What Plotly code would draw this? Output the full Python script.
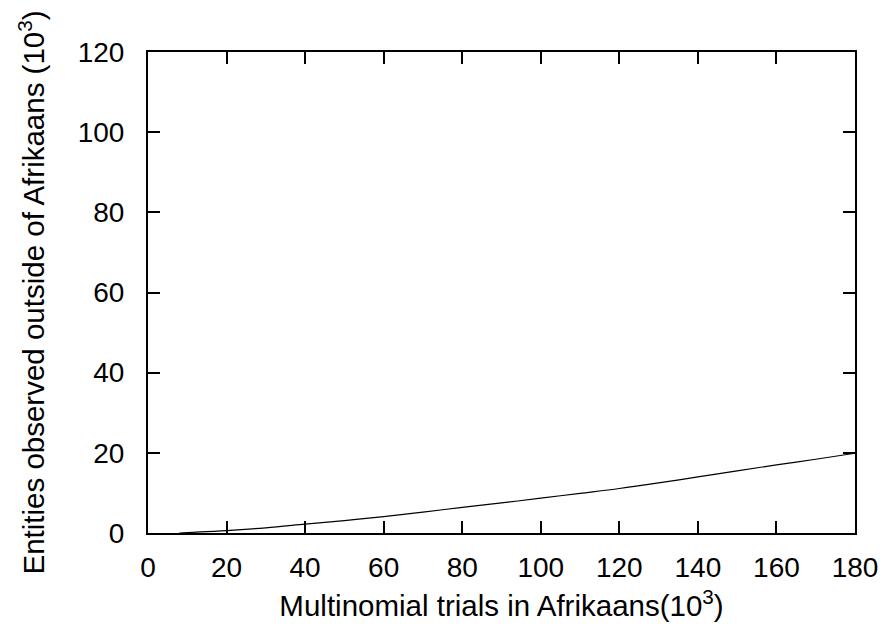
import plotly.graph_objects as go

x_vals = [8, 10, 20, 30, 40, 50, 60, 70, 80, 90, 100, 110, 120, 130, 140, 150, 160, 170, 180]
y_vals = [0.0, 0.1, 0.6, 1.3, 2.2, 3.1, 4.1, 5.2, 6.4, 7.5, 8.7, 9.9, 11.1, 12.5, 14.0, 15.5, 17.0, 18.4, 19.9]
x_ticks = [0, 20, 40, 60, 80, 100, 120, 140, 160, 180]
y_ticks = [0, 20, 40, 60, 80, 100, 120]

FONT = "Liberation Sans, Arial, Helvetica, sans-serif"

fig = go.Figure()
fig.add_trace(go.Scatter(x=x_vals, y=y_vals, mode="lines",
                         line=dict(color="black", width=1.2), line_shape="spline",
                         showlegend=False))

axis_common = dict(showline=True, linecolor="black", linewidth=2, mirror="ticks",
                   ticks="inside", ticklen=12, tickwidth=1.5, tickcolor="black",
                   showgrid=False, zeroline=False,
                   tickfont=dict(family=FONT, size=28, color="black"))

fig.update_layout(
    width=889, height=625,
    margin=dict(l=140, r=42, t=44, b=100),
    plot_bgcolor="white", paper_bgcolor="white",
    font=dict(family=FONT, size=28, color="black"),
    xaxis=dict(range=[0, 180], tickvals=x_ticks, ticktext=[str(v) for v in x_ticks],
               ticklabelstandoff=8,
               title=dict(text="Multinomial trials in Afrikaans(10<sup>3</sup>)", standoff=14,
                          font=dict(family=FONT, size=29.5)),
               **axis_common),
    yaxis=dict(range=[0, 120], tickvals=y_ticks, ticktext=[str(v) for v in y_ticks],
               ticklabelstandoff=16,
               title=dict(text="Entities observed outside of Afrikaans (10<sup>3</sup>)", standoff=24,
                          font=dict(family=FONT, size=29.5)),
               **axis_common),
)

fig.write_html("out.html")
